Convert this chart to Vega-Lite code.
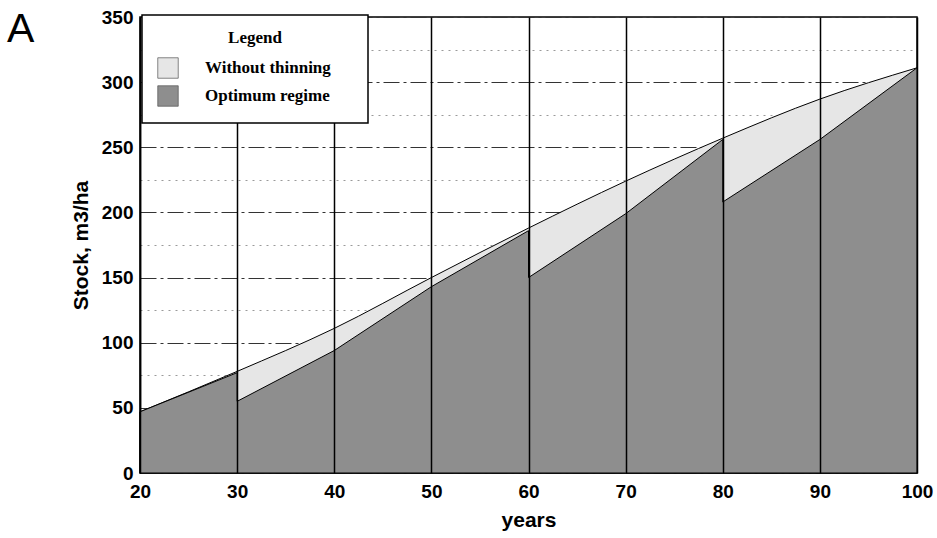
{
  "$schema": "https://vega.github.io/schema/vega-lite/v6.json",
  "width": 777,
  "height": 456,
  "autosize": "none",
  "padding": {"left": 140, "top": 17, "right": 20, "bottom": 65},
  "background": "white",
  "title": {"text": "A", "anchor": "start", "frame": "group", "font": "Liberation Sans", "fontSize": 41, "fontWeight": "normal", "color": "black", "dx": -133, "dy": 47},
  "config": {
    "view": {"stroke": "black", "strokeWidth": 1.5},
    "axis": {"labelFont": "Liberation Sans", "titleFont": "Liberation Sans", "labelColor": "black", "titleColor": "black"}
  },
  "datasets": {
    "stock": [
      {"series": "Without thinning", "year": 20, "stock": 47},
      {"series": "Without thinning", "year": 30, "stock": 78},
      {"series": "Without thinning", "year": 40, "stock": 111},
      {"series": "Without thinning", "year": 50, "stock": 150},
      {"series": "Without thinning", "year": 60, "stock": 188},
      {"series": "Without thinning", "year": 70, "stock": 224},
      {"series": "Without thinning", "year": 80, "stock": 257},
      {"series": "Without thinning", "year": 90, "stock": 287},
      {"series": "Without thinning", "year": 100, "stock": 311},
      {"series": "Optimum regime", "year": 20, "stock": 47},
      {"series": "Optimum regime", "year": 30, "stock": 77},
      {"series": "Optimum regime", "year": 30, "stock": 55},
      {"series": "Optimum regime", "year": 40, "stock": 94},
      {"series": "Optimum regime", "year": 50, "stock": 143},
      {"series": "Optimum regime", "year": 60, "stock": 186},
      {"series": "Optimum regime", "year": 60, "stock": 150},
      {"series": "Optimum regime", "year": 70, "stock": 199},
      {"series": "Optimum regime", "year": 80, "stock": 256},
      {"series": "Optimum regime", "year": 80, "stock": 208},
      {"series": "Optimum regime", "year": 90, "stock": 256},
      {"series": "Optimum regime", "year": 100, "stock": 311}
    ]
  },
  "data": {"name": "stock"},
  "encoding": {
    "x": {
      "field": "year", "type": "quantitative",
      "scale": {"domain": [20, 100], "nice": false},
      "axis": {
        "values": [20, 30, 40, 50, 60, 70, 80, 90, 100],
        "grid": true, "gridColor": "black", "gridWidth": 1.5, "zindex": 1,
        "ticks": false, "domain": false, "labelFlush": false, "labelOverlap": false,
        "labelFontSize": 19, "labelFontWeight": "bold", "labelPadding": 9,
        "title": "years", "titleFontSize": 21, "titleFontWeight": "bold", "titlePadding": 8
      }
    },
    "y": {
      "field": "stock", "type": "quantitative", "stack": null,
      "scale": {"domain": [0, 350], "nice": false},
      "axis": {
        "values": [0, 25, 50, 75, 100, 125, 150, 175, 200, 225, 250, 275, 300, 325, 350],
        "labelExpr": "datum.value % 50 === 0 ? datum.label : ''",
        "grid": true,
        "gridColor": {"condition": {"test": "datum.value % 50 === 0", "value": "#333333"}, "value": "#9a9a9a"},
        "gridDash": {"condition": {"test": "datum.value % 50 === 0", "value": [16, 4, 3, 4]}, "value": [2, 5]},
        "gridWidth": 1,
        "ticks": false, "domain": true, "domainColor": "black", "domainWidth": 1.5,
        "labelFontSize": 19, "labelFontWeight": "bold", "labelPadding": 7,
        "title": "Stock, m3/ha", "titleFontSize": 21, "titleFontWeight": "bold", "titlePadding": 10
      }
    },
    "color": {
      "field": "series", "type": "nominal",
      "scale": {"domain": ["Without thinning", "Optimum regime"], "range": ["#e6e6e6", "#8e8e8e"]},
      "legend": {
        "title": "Legend", "orient": "none", "legendX": 2, "legendY": -2, "zindex": 2,
        "titleAnchor": "middle", "titleFont": "Liberation Serif", "titleFontSize": 17, "titleFontWeight": "bold", "titleColor": "black", "titlePadding": 10,
        "labelFont": "Liberation Serif", "labelFontSize": 17, "labelFontWeight": "bold", "labelColor": "black", "labelOffset": 26, "labelLimit": 400,
        "labelExpr": "datum.label + '\u00a0\u00a0\u00a0\u00a0\u00a0\u200b'",
        "symbolType": "square", "symbolSize": 420, "symbolStrokeColor": "#555555", "symbolStrokeWidth": 0.7, "symbolOpacity": 1,
        "rowPadding": 4, "padding": 15,
        "fillColor": "white", "strokeColor": "black",
        "encode": {"legend": {"update": {"strokeWidth": {"value": 1.5}}}}
      }
    }
  },
  "layer": [
    {
      "transform": [{"filter": "datum.series === 'Without thinning'"}],
      "mark": {"type": "area", "interpolate": "monotone", "fillOpacity": 1, "stroke": "black", "strokeWidth": 1}
    },
    {
      "transform": [{"filter": "datum.series === 'Optimum regime'"}],
      "mark": {"type": "area", "interpolate": "linear", "fillOpacity": 1, "stroke": "black", "strokeWidth": 1}
    }
  ]
}
